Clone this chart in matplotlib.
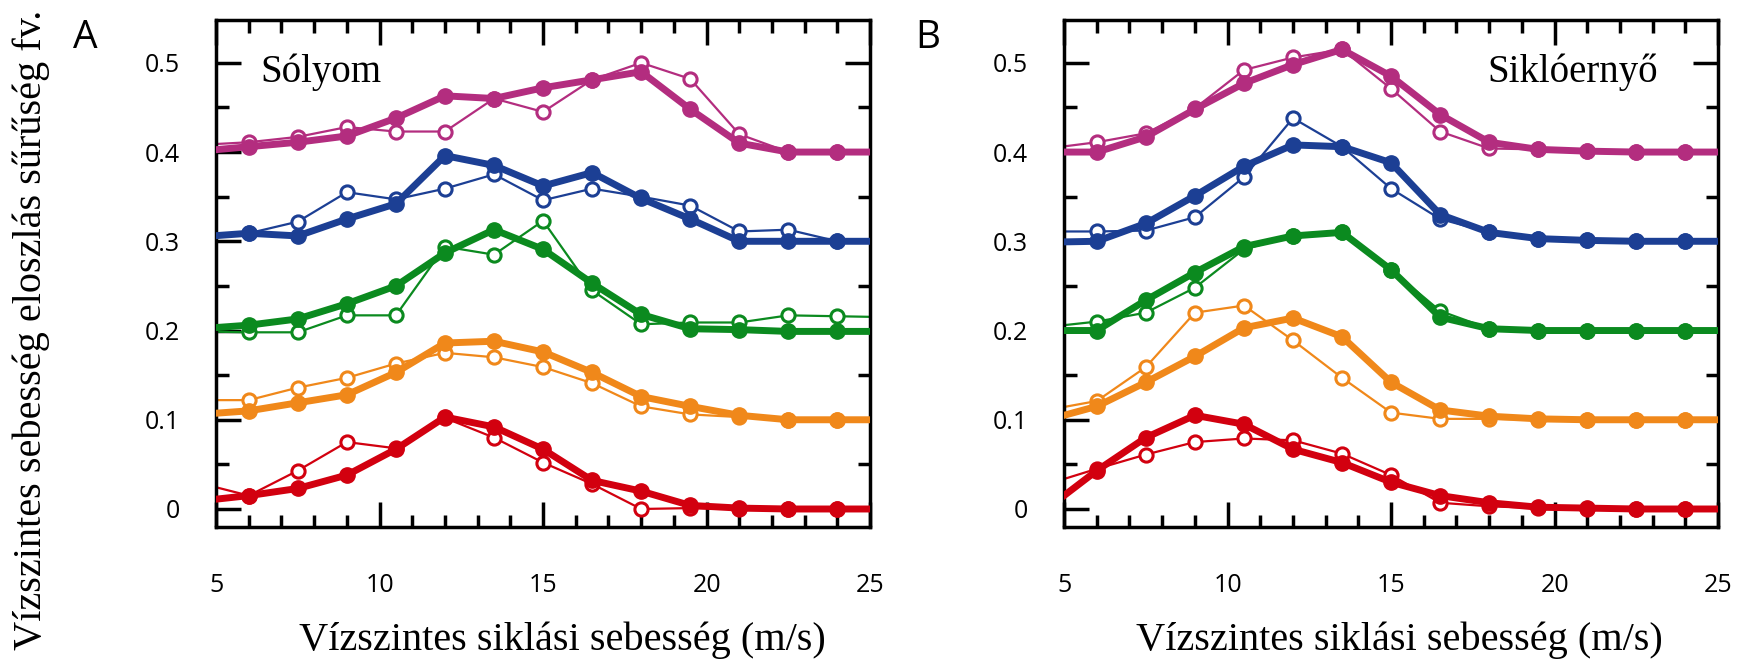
import matplotlib
matplotlib.use('Agg')
import matplotlib.pyplot as plt
from matplotlib.ticker import MultipleLocator

# speeds (m/s); first and last points sit just outside the axis range
speed = [4.5, 6, 7.5, 9, 10.5, 12, 13.5, 15, 16.5, 18, 19.5, 21, 22.5, 24, 25.5]

# panel A - Solyom, filled (thick) series, each offset by 0.1
a_red = [0.009, 0.015, 0.023, 0.038, 0.067, 0.103, 0.092, 0.067, 0.032, 0.020, 0.004, 0.001, 0.000, 0.000, 0.000]
a_orange = [0.106, 0.110, 0.119, 0.128, 0.153, 0.186, 0.188, 0.176, 0.153, 0.126, 0.115, 0.105, 0.100, 0.100, 0.100]
a_green = [0.202, 0.206, 0.213, 0.230, 0.250, 0.287, 0.313, 0.291, 0.253, 0.218, 0.202, 0.201, 0.199, 0.199, 0.199]
a_blue = [0.305, 0.309, 0.306, 0.325, 0.342, 0.396, 0.385, 0.362, 0.377, 0.348, 0.325, 0.300, 0.300, 0.300, 0.300]
a_pink = [0.401, 0.406, 0.411, 0.418, 0.438, 0.463, 0.460, 0.472, 0.481, 0.490, 0.448, 0.410, 0.400, 0.400, 0.400]
# panel A, open (thin) series
a_red_o = [0.029, 0.015, 0.043, 0.075, 0.068, 0.102, 0.080, 0.052, 0.028, 0.000, 0.001, 0.000, 0.000, 0.000, 0.000]
a_orange_o = [0.122, 0.122, 0.136, 0.147, 0.163, 0.175, 0.170, 0.159, 0.141, 0.115, 0.106, 0.103, 0.100, 0.100, 0.100]
a_green_o = [0.199, 0.198, 0.198, 0.217, 0.217, 0.294, 0.285, 0.323, 0.245, 0.207, 0.209, 0.209, 0.217, 0.216, 0.215]
a_blue_o = [0.307, 0.309, 0.322, 0.355, 0.347, 0.359, 0.375, 0.346, 0.359, 0.350, 0.340, 0.311, 0.313, 0.300, 0.300]
a_pink_o = [0.408, 0.411, 0.417, 0.428, 0.423, 0.423, 0.460, 0.445, 0.481, 0.500, 0.482, 0.420, 0.400, 0.400, 0.400]

# panel B - Sikloernyo, filled series
b_red = [0.001, 0.043, 0.080, 0.105, 0.095, 0.067, 0.052, 0.030, 0.015, 0.007, 0.002, 0.001, 0.000, 0.000, 0.000]
b_orange = [0.100, 0.115, 0.142, 0.171, 0.203, 0.214, 0.193, 0.142, 0.111, 0.104, 0.101, 0.100, 0.100, 0.100, 0.100]
b_green = [0.200, 0.200, 0.234, 0.265, 0.294, 0.306, 0.310, 0.268, 0.215, 0.202, 0.200, 0.200, 0.200, 0.200, 0.200]
b_blue = [0.299, 0.300, 0.320, 0.351, 0.384, 0.408, 0.406, 0.388, 0.330, 0.310, 0.303, 0.301, 0.300, 0.300, 0.300]
b_pink = [0.400, 0.400, 0.417, 0.448, 0.477, 0.498, 0.515, 0.485, 0.442, 0.411, 0.403, 0.401, 0.400, 0.400, 0.400]
# panel B, open series
b_red_o = [0.028, 0.045, 0.061, 0.075, 0.079, 0.077, 0.062, 0.038, 0.007, 0.003, 0.001, 0.000, 0.000, 0.000, 0.000]
b_orange_o = [0.111, 0.121, 0.159, 0.220, 0.228, 0.189, 0.147, 0.108, 0.101, 0.101, 0.100, 0.100, 0.100, 0.100, 0.100]
b_green_o = [0.204, 0.210, 0.220, 0.248, 0.291, 0.306, 0.310, 0.268, 0.222, 0.202, 0.200, 0.200, 0.200, 0.200, 0.200]
b_blue_o = [0.311, 0.311, 0.312, 0.327, 0.372, 0.438, 0.406, 0.359, 0.325, 0.310, 0.303, 0.301, 0.300, 0.300, 0.300]
b_pink_o = [0.404, 0.411, 0.421, 0.449, 0.492, 0.506, 0.515, 0.471, 0.423, 0.404, 0.403, 0.401, 0.400, 0.400, 0.400]

colors = ['#d2000f', '#f0881a', '#0b8a1f', '#1c3f94', '#b32d7f']
ytick_vals = [0, 0.1, 0.2, 0.3, 0.4, 0.5]
ytick_labels = ['0', '0.1', '0.2', '0.3', '0.4', '0.5']
xtick_vals = [5, 10, 15, 20, 25]
xlabel = 'Vízszintes siklási sebesség (m/s)'
ylabel = 'Vízszintes sebesség eloszlás sűrűség fv.'

fig = plt.figure(figsize=(17.51, 6.64), dpi=100)
axA = fig.add_axes([0.1234, 0.2063, 0.3735, 0.7636])
axB = fig.add_axes([0.6077, 0.2063, 0.3735, 0.7636])

panels = [
    (axA, [a_red, a_orange, a_green, a_blue, a_pink], [a_red_o, a_orange_o, a_green_o, a_blue_o, a_pink_o]),
    (axB, [b_red, b_orange, b_green, b_blue, b_pink], [b_red_o, b_orange_o, b_green_o, b_blue_o, b_pink_o]),
]

for ax, filled, opened in panels:
    for vals, c in zip(opened, colors):
        ax.plot(speed, vals, color=c, lw=1.6, marker='o', ms=9.5, mfc='white', mec=c, mew=2.2, zorder=2)
    for vals, c in zip(filled, colors):
        ax.plot(speed, vals, color=c, lw=5, marker='o', ms=11, zorder=3)
    ax.set_xlim(5, 25)
    ax.set_ylim(-0.0202, 0.548)
    ax.set_xticks(xtick_vals)
    ax.xaxis.set_minor_locator(MultipleLocator(1))
    ax.set_yticks(ytick_vals)
    ax.set_yticklabels(ytick_labels)
    ax.yaxis.set_minor_locator(MultipleLocator(0.05))
    ax.tick_params(which='both', direction='in', top=True, right=True, width=2.5)
    ax.tick_params(which='major', length=18)
    ax.tick_params(which='minor', length=9)
    ax.tick_params(axis='y', pad=26, labelsize=18)
    ax.tick_params(axis='x', pad=33, labelsize=18)
    for lab in ax.get_xticklabels() + ax.get_yticklabels():
        lab.set_family('Open Sans')
    for s in ax.spines.values():
        s.set_linewidth(2.5)
    ax.set_xlabel(xlabel, family='Liberation Serif', fontsize=29, va='center')

axA.xaxis.set_label_coords(0.53, -0.223)
axB.xaxis.set_label_coords(0.513, -0.223)

axA.text(260 / 1751, 1 - 72 / 664, 'Sólyom', transform=fig.transFigure, family='Liberation Serif',
         fontsize=28, ha='left', va='center')
axB.text(1487 / 1751, 1 - 72 / 664, 'Siklóernyő', transform=fig.transFigure, family='Liberation Serif',
         fontsize=28, ha='left', va='center')

fig.text(85 / 1751, 1 - 38 / 664, 'A', family='Open Sans', fontsize=28, ha='center', va='center')
fig.text(928 / 1751, 1 - 38 / 664, 'B', family='Open Sans', fontsize=28, ha='center', va='center')
fig.text(31 / 1751, 1 - 330 / 664, ylabel, family='Liberation Serif', fontsize=29,
         rotation=90, ha='center', va='center')

fig.savefig('out.png', dpi=100)
